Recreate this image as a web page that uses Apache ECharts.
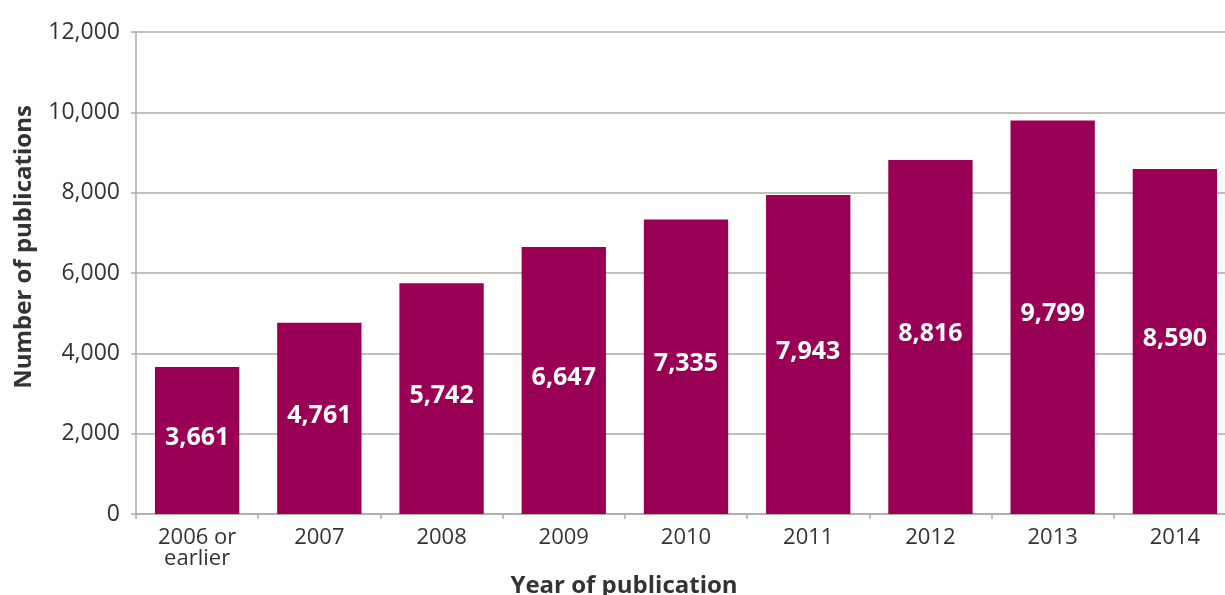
<!DOCTYPE html>
<html>
<head>
<meta charset="utf-8">
<script src="https://cdn.jsdelivr.net/npm/echarts@6/dist/echarts.min.js"></script>
<style>
  html, body { margin: 0; padding: 0; background: #fff; overflow: hidden; width: 1225px; height: 595px; }
  #chart { width: 1225px; height: 595px; overflow: hidden; position: relative; }
</style>
</head>
<body>
<div id="chart"></div>
<script>
// Publications per year of publication
const years = ['2006 or\nearlier', '2007', '2008', '2009', '2010', '2011', '2012', '2013', '2014'];
const publications = [3661, 4761, 5742, 6647, 7335, 7943, 8816, 9799, 8590];

const axisColor = '#b3aa9f';
const textColor = '#333333';
const barColor = '#990055';
const font = '"Open Sans", "Noto Sans", sans-serif';

const chart = echarts.init(document.getElementById('chart'), null, { renderer: 'canvas' });

chart.setOption({
  animation: false,
  textStyle: { fontFamily: font },
  // the plot runs slightly past the right edge of the canvas
  grid: { left: 136, top: 32, width: 1100, height: 482, containLabel: false, outerBoundsMode: 'none' },
  xAxis: {
    type: 'category',
    data: years,
    name: 'Year of publication',
    nameLocation: 'middle',
    nameGap: 49,
    nameTextStyle: { fontFamily: font, fontSize: 24, fontWeight: 'bold', color: textColor, padding: [0, 124, 0, 0] },
    axisLine: { lineStyle: { color: axisColor, width: 1.5 } },
    axisTick: { show: true, length: 5, lineStyle: { color: axisColor, width: 1.5 } },
    axisLabel: { fontFamily: font, fontSize: 22, color: textColor, margin: 13, lineHeight: 21, interval: 0 }
  },
  yAxis: {
    type: 'value',
    min: 0,
    max: 12000,
    interval: 2000,
    name: 'Number of publications',
    nameLocation: 'middle',
    nameGap: 100,
    nameRotate: 90,
    nameTextStyle: { fontFamily: font, fontSize: 24, fontWeight: 'bold', color: textColor, padding: [0, 0, 0, 52] },
    axisLine: { show: true, lineStyle: { color: axisColor, width: 1.5 } },
    axisTick: { show: true, length: 5, lineStyle: { color: axisColor, width: 1.5 } },
    splitLine: { show: true, lineStyle: { color: axisColor, width: 1.5 } },
    axisLabel: {
      fontFamily: font, fontSize: 23, color: textColor, margin: 16,
      formatter: v => v.toLocaleString('en-US')
    }
  },
  series: [{
    type: 'bar',
    data: publications,
    barCategoryGap: '31%',
    itemStyle: { color: barColor },
    label: {
      show: true,
      position: 'inside',
      offset: [0, -3],
      fontFamily: font,
      fontSize: 25,
      fontWeight: 'bold',
      color: '#ffffff',
      formatter: p => p.value.toLocaleString('en-US')
    }
  }]
});
</script>
</body>
</html>
